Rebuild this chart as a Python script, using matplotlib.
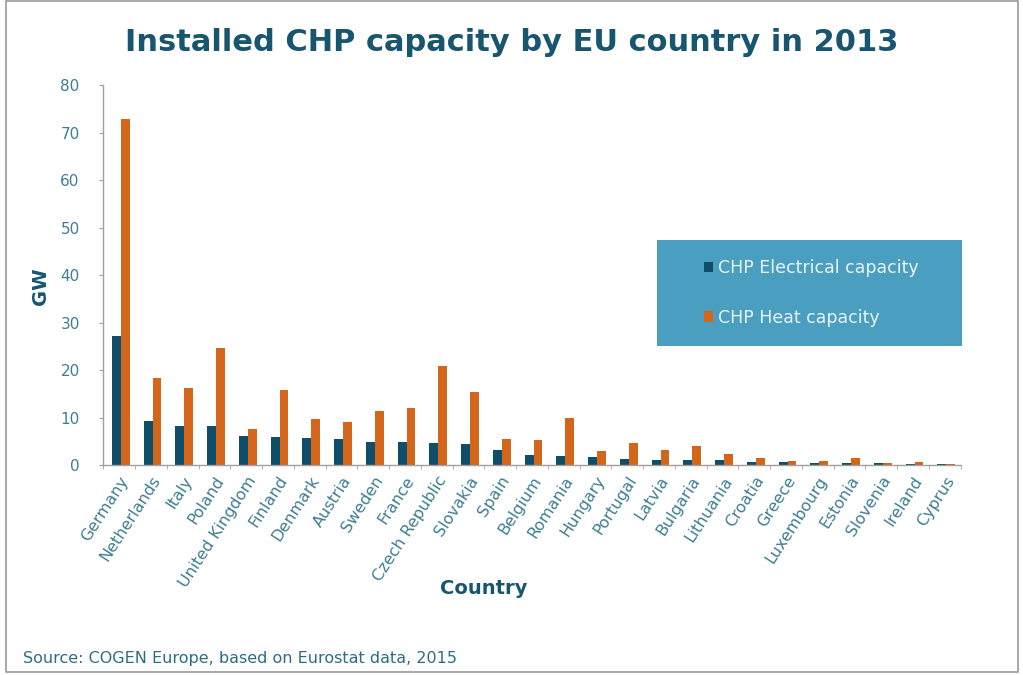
import numpy as np
import matplotlib
matplotlib.use("Agg")
import matplotlib.pyplot as plt
from matplotlib.patches import Rectangle

# Data (GW)
countries = ["Germany", "Netherlands", "Italy", "Poland", "United Kingdom", "Finland",
             "Denmark", "Austria", "Sweden", "France", "Czech Republic", "Slovakia",
             "Spain", "Belgium", "Romania", "Hungary", "Portugal", "Latvia", "Bulgaria",
             "Lithuania", "Croatia", "Greece", "Luxembourg", "Estonia", "Slovenia",
             "Ireland", "Cyprus"]
electrical = [27.2, 9.3, 8.2, 8.2, 6.2, 6.0, 5.8, 5.5, 4.8, 4.8, 4.6, 4.4,
              3.2, 2.2, 1.9, 1.6, 1.3, 1.1, 1.1, 1.1, 0.56, 0.56, 0.4, 0.4, 0.35, 0.3, 0.2]
heat = [72.8, 18.4, 16.3, 24.6, 7.6, 15.7, 9.7, 9.1, 11.4, 12.0, 20.9, 15.4,
        5.4, 5.2, 10.0, 3.0, 4.6, 3.2, 4.1, 2.4, 1.5, 0.8, 0.85, 1.5, 0.5, 0.6, 0.2]
yticks = [0, 10, 20, 30, 40, 50, 60, 70, 80]

c_elec = "#0e4e68"
c_heat = "#d4661b"
c_title = "#17566e"
c_tick = "#3f7d93"
c_spine = "#a0a0a0"

plt.rcParams['font.family'] = ['DejaVu Sans']

fig = plt.figure(figsize=(10.23, 6.75), dpi=100)
ax = fig.add_axes([0.101, 0.311, 0.838, 0.563])

x = np.arange(len(countries))
w = 0.28
b1 = ax.bar(x - w / 2 + 0.05, electrical, w, color=c_elec, label="CHP Electrical capacity")
b2 = ax.bar(x + w / 2 + 0.05, heat, w, color=c_heat, label="CHP Heat capacity")

ax.set_xlim(-0.5, len(countries) - 0.5)
ax.set_ylim(0, 80)
ax.set_yticks(yticks)
ax.tick_params(axis='y', length=3, color=c_spine, labelsize=11, labelcolor=c_tick, pad=14)
ax.set_xticks(x)
ax.set_xticklabels(countries, rotation=57, ha='right', rotation_mode='anchor',
                   fontsize=11.5, color=c_tick)
ax.tick_params(axis='x', which='major', length=0, pad=6)
ax.set_xticks(np.arange(-0.5, len(countries)), minor=True)
ax.tick_params(axis='x', which='minor', length=3, color=c_spine)

for s in ['top', 'right']:
    ax.spines[s].set_visible(False)
for s in ['left', 'bottom']:
    ax.spines[s].set_color(c_spine)
    ax.spines[s].set_linewidth(1)

ax.set_ylabel("GW", fontsize=14, fontweight='bold', color=c_title)
ax.yaxis.set_label_coords(-0.062, 0.47)
ax.set_xlabel("Country", fontsize=14, fontweight='bold', color=c_title)
ax.xaxis.set_label_coords(0.444, -0.30)

fig.text(0.5, 0.937, "Installed CHP capacity by EU country in 2013", ha='center',
         va='center', fontsize=22, fontweight='bold', color=c_title)
fig.text(0.022, 0.024, "Source: COGEN Europe, based on Eurostat data, 2015", ha='left',
         va='center', fontsize=11.5, color="#2e6c86")

# legend box
fig.patches.append(Rectangle((657 / 1023, 1 - 346 / 675), 305 / 1023, 106 / 675,
                             transform=fig.transFigure, facecolor="#4a9ebf",
                             edgecolor='none', zorder=1))
leg = fig.legend(handles=[b1, b2], loc='center left',
                 bbox_to_anchor=(688 / 1023, 1 - 293 / 675),
                 frameon=False, fontsize=12.5,
                 labelcolor="#e6f4f8", handlelength=0.55, handleheight=0.55,
                 handletextpad=0.3, labelspacing=1.8)
leg.set_zorder(5)

# outer frame
fig.patches.append(Rectangle((6 / 1023, 3 / 675), 1012 / 1023, 671 / 675,
                             transform=fig.transFigure, facecolor='none',
                             edgecolor="#9a9a9a", linewidth=1.2))

fig.savefig("out.png", dpi=100)
